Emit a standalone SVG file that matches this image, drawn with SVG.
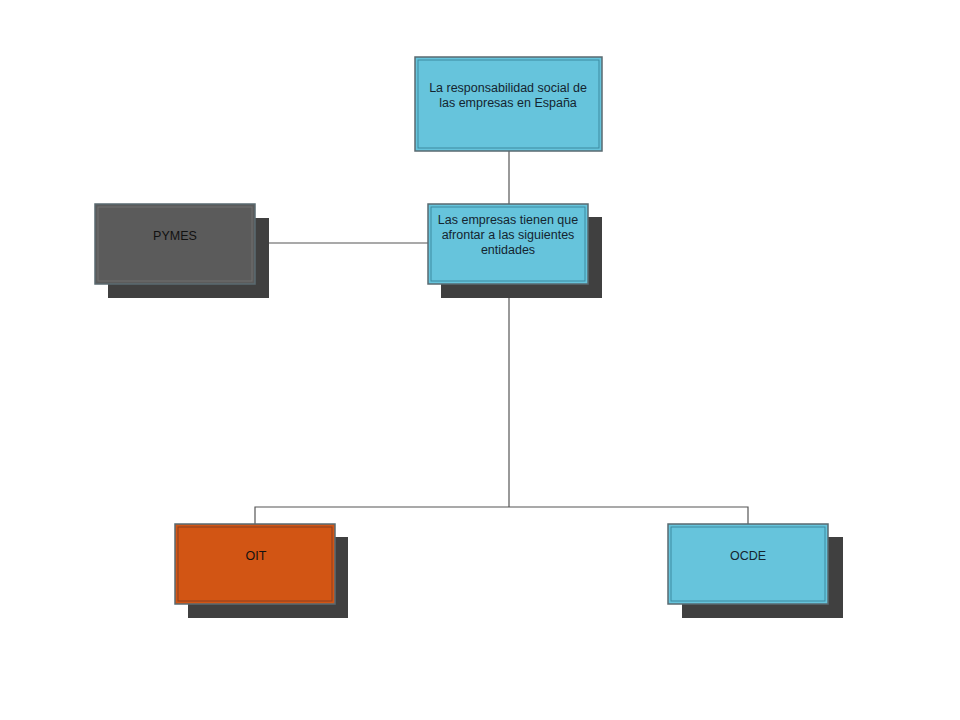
<svg xmlns="http://www.w3.org/2000/svg" width="960" height="720" viewBox="0 0 960 720">
<style>
.shadow{fill:#404040}
.box{stroke:#5a6a70;stroke-width:1.5}
.inner{fill:none;stroke-width:1}
.blue{fill:#66c4dc}
.blue-in{stroke:#3d8aa0}
.gray{fill:#5b5b5b}
.gray-in{stroke:#707070}
.orange{fill:#d25514}
.orange-in{stroke:#8a4020}
.conn{stroke:#555;stroke-width:1.2;fill:none}
text{font-family:"Liberation Sans",Arial,sans-serif;font-size:12.5px;text-anchor:middle}
.t-dark{fill:#142530}
.t-black{fill:#111}
</style>
<rect width="960" height="720" fill="#fff"/>
<g id="connectors">
<line class="conn" x1="509" y1="151" x2="509" y2="205"/>
<line class="conn" x1="269" y1="243" x2="429" y2="243"/>
<line class="conn" x1="509" y1="298" x2="509" y2="507"/>
<polyline class="conn" points="255,524 255,507 748,507 748,524"/>
</g>
<g id="node-top">
<rect class="box blue" x="415" y="57" width="187" height="94"/>
<rect class="inner blue-in" x="418" y="60" width="181" height="88"/>
<text class="t-dark" x="508" y="92">La responsabilidad social de</text>
<text class="t-dark" x="508" y="107">las empresas en España</text>
</g>
<g id="node-mid">
<rect class="shadow" x="441" y="217" width="161" height="81"/>
<rect class="box blue" x="428" y="204" width="160" height="80"/>
<rect class="inner blue-in" x="431" y="207" width="154" height="74"/>
<text class="t-dark" x="508" y="224">Las empresas tienen que</text>
<text class="t-dark" x="508" y="239">afrontar a las siguientes</text>
<text class="t-dark" x="508" y="254">entidades</text>
</g>
<g id="node-pymes">
<rect class="shadow" x="108" y="218" width="161" height="80"/>
<rect class="box gray" x="95" y="204" width="160" height="80"/>
<rect class="inner gray-in" x="98" y="207" width="154" height="74"/>
<text class="t-black" x="175" y="240">PYMES</text>
</g>
<g id="node-oit">
<rect class="shadow" x="188" y="537" width="160" height="81"/>
<rect class="box orange" x="175" y="524" width="160" height="80"/>
<rect class="inner orange-in" x="178" y="527" width="154" height="74"/>
<text class="t-black" x="256" y="560">OIT</text>
</g>
<g id="node-ocde">
<rect class="shadow" x="682" y="537" width="161" height="81"/>
<rect class="box blue" x="668" y="524" width="160" height="80"/>
<rect class="inner blue-in" x="671" y="527" width="154" height="74"/>
<text class="t-dark" x="748" y="560">OCDE</text>
</g>
</svg>
